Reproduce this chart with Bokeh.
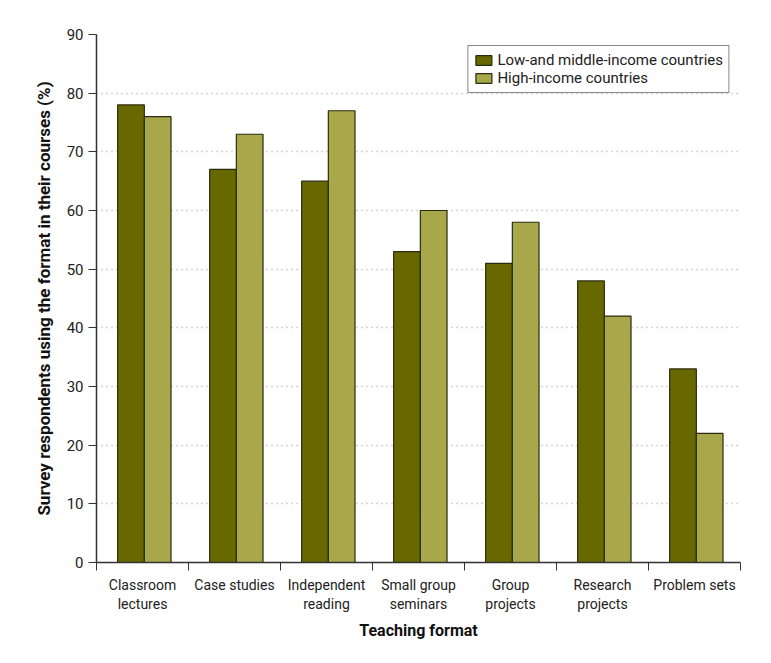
from bokeh.plotting import figure
from bokeh.models import Range1d, FixedTicker, ColumnDataSource, Legend, LegendItem
from bokeh.embed import file_html
from bokeh.resources import INLINE

categories = ["Classroom\nlectures", "Case studies", "Independent\nreading", "Small group\nseminars",
              "Group\nprojects", "Research\nprojects", "Problem sets"]
lmic = [78, 67, 65, 53, 51, 48, 33]
hic = [76, 73, 77, 60, 58, 42, 22]
series_names = ["Low-and middle-income countries", "High-income countries"]
y_ticks = [0, 10, 20, 30, 40, 50, 60, 70, 80, 90]

FONT = "Roboto"
DARK = "#686800"
LIGHT = "#a8a84a"
EDGE = "#2b2b10"

n = len(categories)
idx = list(range(n))
src = ColumnDataSource(dict(
    x1=[i + 0.375 for i in idx], x2=[i + 0.665 for i in idx], lmic=lmic, hic=hic))

p = figure(width=763, height=655, output_backend="svg", toolbar_location=None,
           x_range=Range1d(0, n), y_range=Range1d(0, 90),
           min_border_left=96, min_border_right=23, min_border_top=34, min_border_bottom=93)
p.outline_line_color = None

r1 = p.vbar(x="x1", top="lmic", width=0.29, source=src, fill_color=DARK, line_color=EDGE, line_width=1.2)
r2 = p.vbar(x="x2", top="hic", width=0.29, source=src, fill_color=LIGHT, line_color=EDGE, line_width=1.2)

xa = p.xaxis[0]
xa.ticker = FixedTicker(ticks=[i + 0.5 for i in idx], minor_ticks=list(range(n + 1)))
xa.major_label_overrides = {i + 0.5: categories[i] for i in idx}
xa.major_tick_line_color = None
xa.minor_tick_line_color = "#333333"
xa.minor_tick_out = 8
xa.minor_tick_in = 0
xa.major_label_standoff = 6
xa.major_label_text_font = FONT
xa.major_label_text_font_size = "14px"
xa.major_label_text_color = "#222222"
xa.axis_line_color = "#333333"
xa.axis_line_width = 1.5
xa.axis_label = "Teaching format"
xa.axis_label_text_font = FONT
xa.axis_label_text_font_size = "16px"
xa.axis_label_text_font_style = "bold"
xa.axis_label_text_color = "#111111"
xa.axis_label_standoff = 6

ya = p.yaxis[0]
ya.ticker = FixedTicker(ticks=y_ticks)
ya.major_tick_out = 8
ya.major_tick_in = 0
ya.major_tick_line_color = "#333333"
ya.minor_tick_line_color = None
ya.axis_line_color = "#333333"
ya.axis_line_width = 1.5
ya.major_label_text_font = FONT
ya.major_label_text_font_size = "15px"
ya.major_label_text_color = "#222222"
ya.major_label_standoff = 5
ya.axis_label = "Survey respondents using the format in their courses (%)"
ya.axis_label_text_font = FONT
ya.axis_label_text_font_size = "17px"
ya.axis_label_text_font_style = "bold"
ya.axis_label_text_color = "#111111"
ya.axis_label_standoff = 10

p.xgrid.grid_line_color = None
p.ygrid.ticker = FixedTicker(ticks=y_ticks[1:])
p.ygrid.grid_line_color = "#aaaaaa"
p.ygrid.grid_line_dash = "1 4"
p.ygrid.grid_line_width = 1.3

legend = Legend(items=[LegendItem(label=series_names[0], renderers=[r1]),
                       LegendItem(label=series_names[1], renderers=[r2])],
                location="top_right")
legend.label_text_font = FONT
legend.label_text_font_size = "15px"
legend.label_text_color = "#222222"
legend.border_line_color = "#111111"
legend.border_line_width = 1.2
legend.glyph_width = 20
legend.glyph_height = 12
legend.label_height = 14
legend.spacing = 0
legend.padding = 5
legend.margin = 11
legend.label_standoff = 4
legend.background_fill_alpha = 1
p.add_layout(legend)

open("out.html", "w").write(file_html(p, INLINE))
